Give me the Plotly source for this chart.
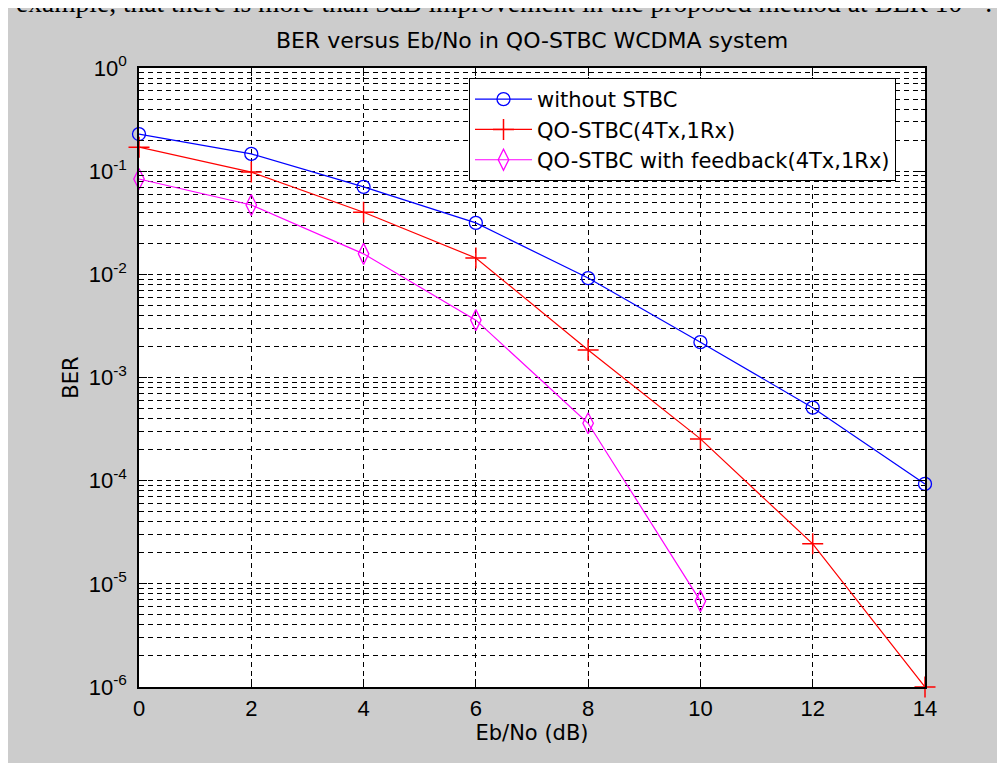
import plotly.graph_objects as go

# ---------------- data ----------------
ebno = [0, 2, 4, 6, 8, 10, 12, 14]
ber_without_stbc = [0.229, 0.147, 0.0705, 0.0315, 0.0092, 0.0022, 5.1e-4, 9.3e-5]
ber_qo_stbc = [0.171, 0.098, 0.040, 0.0144, 0.00185, 2.54e-4, 2.44e-5, 1.0e-6]
ebno_fb = [0, 2, 4, 6, 8, 10]
ber_qo_stbc_fb = [0.084, 0.047, 0.0158, 0.0036, 3.6e-4, 6.8e-6]

series_names = ["without STBC", "QO-STBC(4Tx,1Rx)", "QO-STBC with feedback(4Tx,1Rx)"]
x_ticks = [0, 2, 4, 6, 8, 10, 12, 14]
y_tick_exps = [-6, -5, -4, -3, -2, -1, 0]

# ---------------- layout constants (figure pixels; page = figure + 8px body margin) ----------------
W, H = 997, 755
L, R, T, B = 131, 917, 60, 679
TICKFONT = "Liberation Sans, Arial, sans-serif"
TEXTFONT = "DejaVu Sans, Liberation Sans, sans-serif"
GRAY = "#cccccc"


def px2x(px):
    return (px - L) / (R - L)


def px2y(py):
    return (B - py) / (B - T)


fig = go.Figure()

fig.add_trace(go.Scatter(
    x=ebno, y=ber_without_stbc, name=series_names[0], mode="lines+markers",
    line=dict(color="#0000ff", width=1.2),
    marker=dict(symbol="circle-open", size=13, color="#0000ff", line=dict(width=1.3)),
    cliponaxis=False))
fig.add_trace(go.Scatter(
    x=ebno, y=ber_qo_stbc, name=series_names[1], mode="lines+markers",
    line=dict(color="#ff0000", width=1.2),
    marker=dict(symbol="cross-thin-open", size=15, color="#ff0000", line=dict(width=1.5, color="#ff0000")),
    cliponaxis=False))
fig.add_trace(go.Scatter(
    x=ebno_fb, y=ber_qo_stbc_fb, name=series_names[2], mode="lines+markers",
    line=dict(color="#ff00ff", width=1.2),
    marker=dict(symbol="diamond-tall-open", size=15, color="#ff00ff", line=dict(width=1.3)),
    cliponaxis=False))

minor_vals = [m * 10.0 ** e for e in y_tick_exps[:-1] for m in range(2, 10)]

grid_dash = "5px,4px"

fig.update_xaxes(
    range=[0, 14], tickvals=x_ticks, ticktext=[str(v) for v in x_ticks],
    showline=True, linecolor="black", linewidth=1.5, mirror="ticks",
    ticks="inside", ticklen=8, tickcolor="black", tickwidth=1,
    showgrid=True, gridcolor="black", gridwidth=1, griddash=grid_dash,
    zeroline=False,
    tickfont=dict(family=TICKFONT, size=22, color="black"),
    title=dict(text="Eb/No (dB)", font=dict(family=TEXTFONT, size=21, color="black"), standoff=4),
    ticklabelstandoff=1,
)
fig.update_yaxes(
    type="log", range=[-6, 0],
    tickvals=[10.0 ** e for e in y_tick_exps],
    ticktext=["10<sup>%d</sup>" % e for e in y_tick_exps],
    showline=True, linecolor="black", linewidth=1.5, mirror="ticks",
    ticks="inside", ticklen=8, tickcolor="black", tickwidth=1,
    showgrid=True, gridcolor="black", gridwidth=1, griddash=grid_dash,
    minor=dict(tickmode="array", tickvals=minor_vals, ticks="inside", ticklen=4,
               tickcolor="black", showgrid=True, gridcolor="black", gridwidth=1,
               griddash=grid_dash),
    zeroline=False,
    tickfont=dict(family=TICKFONT, size=22, color="black"),
    ticklabelstandoff=6,
    title=dict(text="BER", font=dict(family=TEXTFONT, size=21, color="black"), standoff=4),
)

fig.update_layout(
    width=W, height=H,
    margin=dict(l=L, r=W - R, t=T, b=H - B, autoexpand=False),
    paper_bgcolor=GRAY, plot_bgcolor="white",
    font=dict(family=TEXTFONT, size=21, color="black"),
    title=dict(text="BER versus Eb/No in QO-STBC WCDMA system",
               x=0.5, xref="paper", xanchor="center",
               y=1 - 32.5 / H, yref="container", yanchor="middle",
               font=dict(family=TEXTFONT, size=22, color="black")),
    showlegend=True,
    legend=dict(x=px2x(461), y=px2y(70), xanchor="left", yanchor="top",
                bgcolor="white", bordercolor="black", borderwidth=1,
                font=dict(family=TEXTFONT, size=21, color="black"),
                itemwidth=57, tracegroupgap=0),
    annotations=[
        dict(text="example, that there is more than 3dB improvement in the proposed method at BER 10<sup>-4</sup> .",
             xref="paper", yref="paper", x=px2x(6), y=px2y(12),
             xanchor="left", yanchor="bottom", showarrow=False,
             font=dict(family="Liberation Serif, Times New Roman, serif", size=27.5, color="black")),
    ],
)

fig.write_html("out.html")
